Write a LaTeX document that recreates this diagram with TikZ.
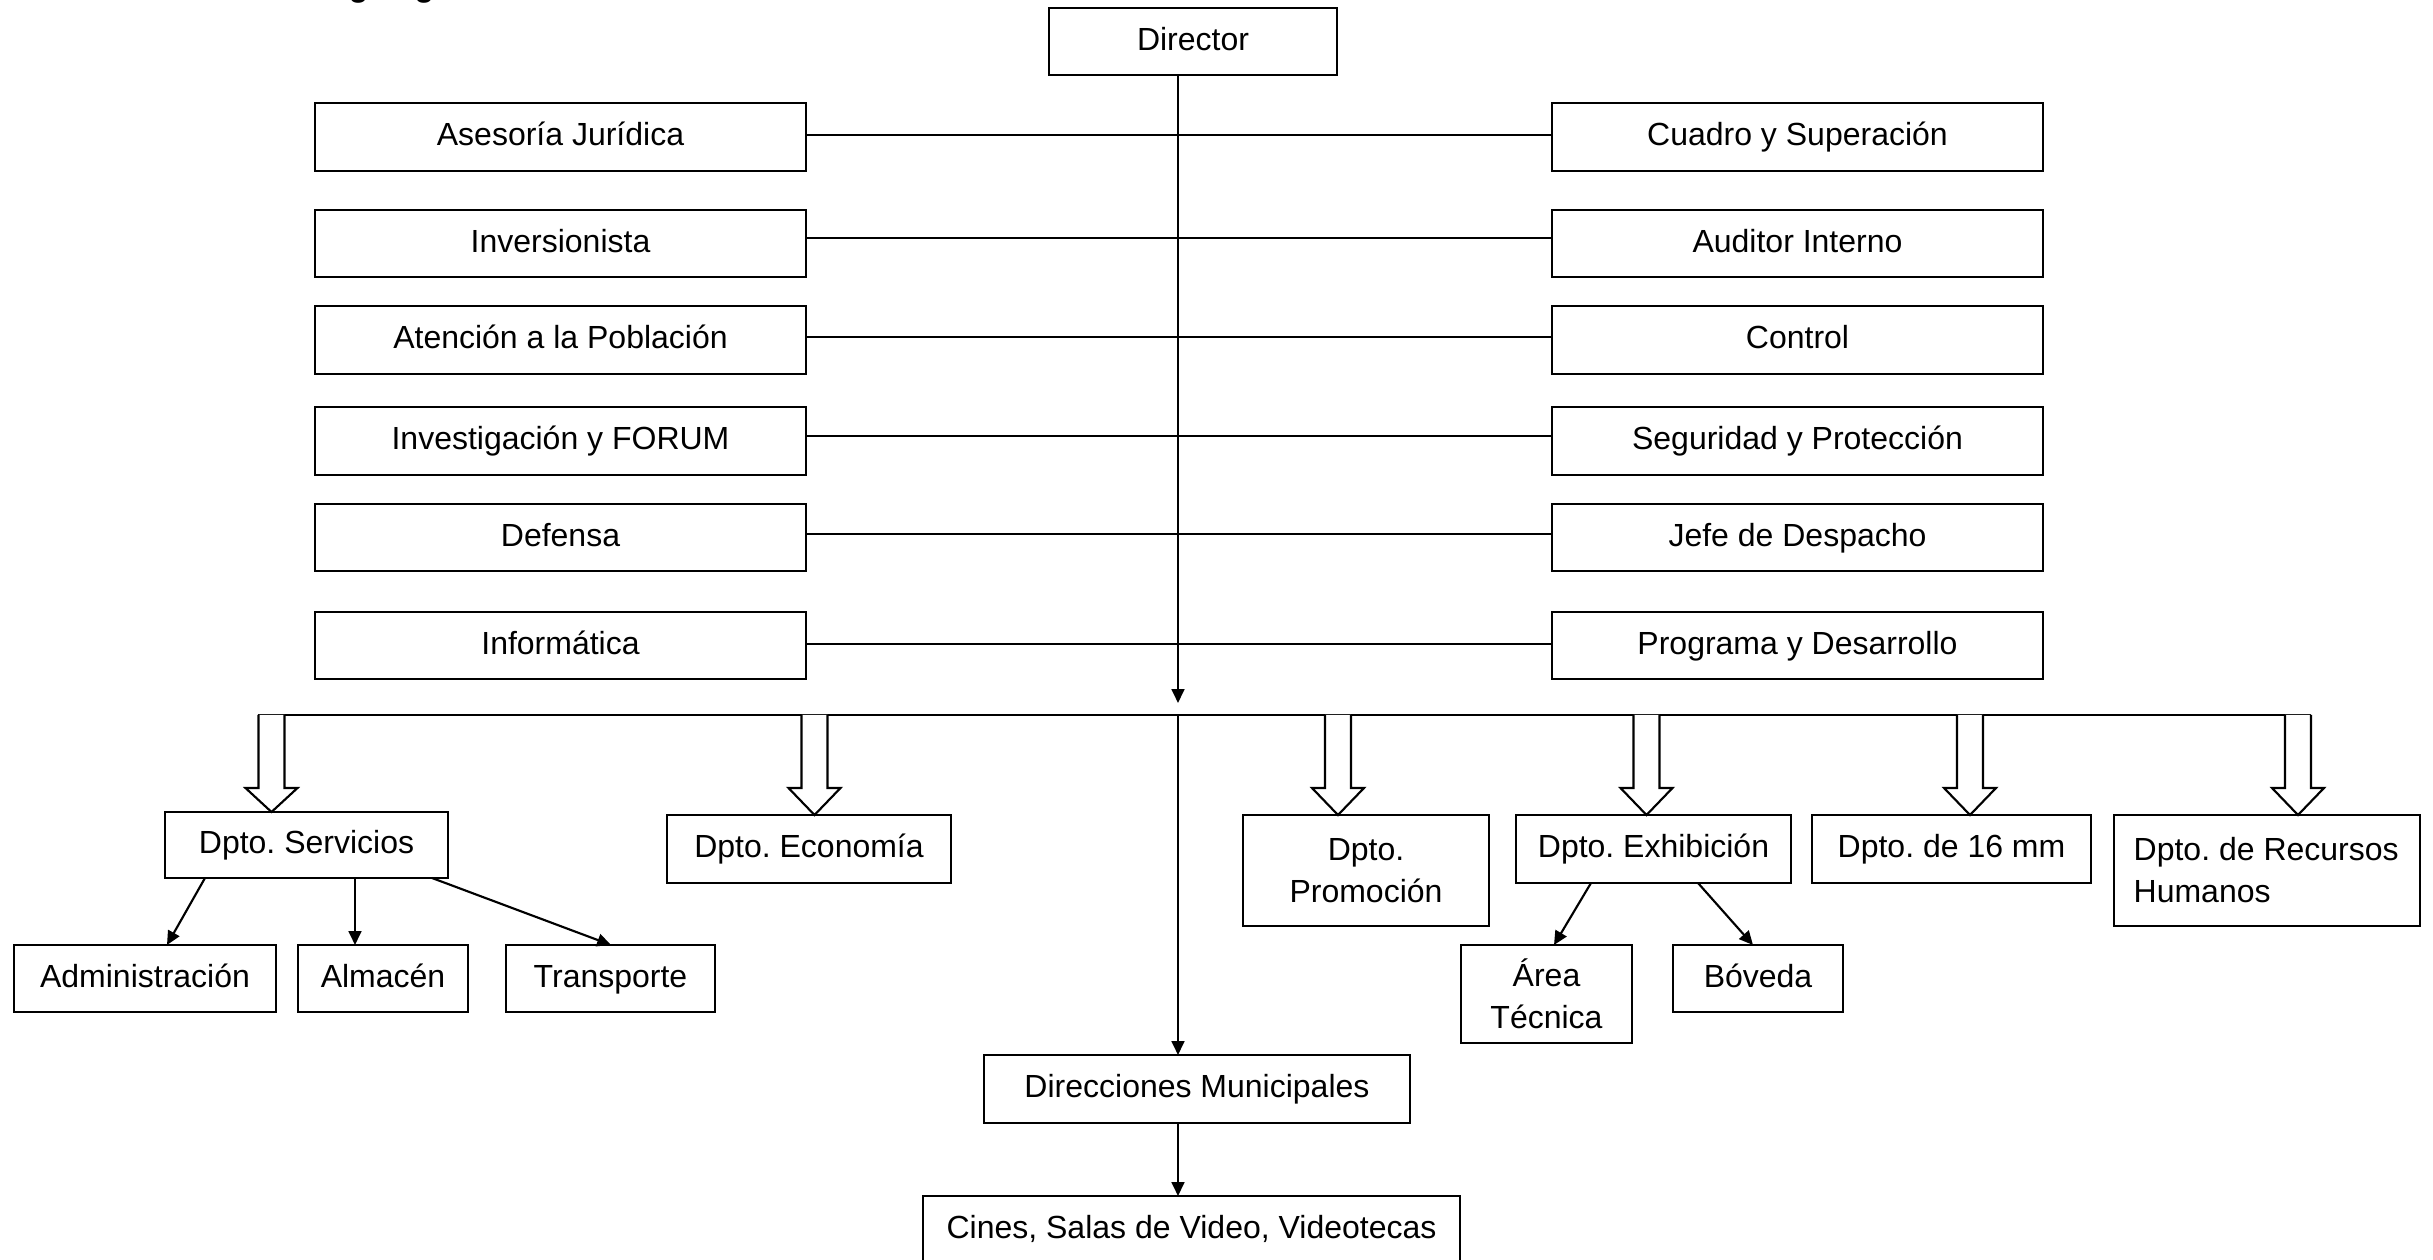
\documentclass[tikz,border=0pt]{standalone}
\usepackage{fontspec}
\setmainfont{Liberation Sans}
\frenchspacing
\usetikzlibrary{arrows.meta,calc}
\tikzset{
  box/.style={draw, line width=0.8pt, inner sep=0pt, outer sep=0pt, align=center,
    font=\fontsize{12}{15.7}\selectfont, text height=8.6pt, text depth=2.2pt},
  multi/.style={text height=, text depth=},
  conn/.style={line width=0.8pt},
  arr/.style={line width=0.8pt, -{Triangle[length=5.2pt,width=4.8pt]}},
  hollow/.style={line width=0.8pt, fill=white, line join=miter},
}
\newcommand\bx[7][]{%
  \node[box,#1, minimum width={(#5-#3)*0.375pt}, minimum height={(#6-#4)*0.375pt}]
    (#2) at ({(#3+#5)/2},{(#4+#6)/2}) {#7};}
\newcommand\hol[2]{%
  \coordinate (t#1) at (#2,715);
  \draw[hollow] ($(t#1)+(-13,0)$) -- ($(t#1)+(-13,73)$) -- ($(t#1)+(-26,73)$)
    -- (#1.north -| t#1) -- ($(t#1)+(26,73)$) -- ($(t#1)+(13,73)$) -- ($(t#1)+(13,0)$);}
\begin{document}
\begin{tikzpicture}[x=0.375pt,y=-0.375pt]
\useasboundingbox (0,0) rectangle (2433,1260);
% title (cut off at top edge)
\node[anchor=base west, inner sep=0pt, font=\fontsize{12}{14}\selectfont\bfseries] (title) at (311,-3) {Organigrama};
% top
\bx{dir}{1049}{8}{1337}{75}{Director}
% left column
\bx{l1}{315}{103}{806}{171}{Asesoría Jurídica}
\bx{l2}{315}{210}{806}{277}{Inversionista}
\bx{l3}{315}{306}{806}{374}{Atención a la Población}
\bx{l4}{315}{407}{806}{475}{Investigación y FORUM}
\bx{l5}{315}{504}{806}{571}{Defensa}
\bx{l6}{315}{612}{806}{679}{Informática}
% right column
\bx{r1}{1552}{103}{2043}{171}{Cuadro y Superación}
\bx{r2}{1552}{210}{2043}{277}{Auditor Interno}
\bx{r3}{1552}{306}{2043}{374}{Control}
\bx{r4}{1552}{407}{2043}{475}{Seguridad y Protección}
\bx{r5}{1552}{504}{2043}{571}{Jefe de Despacho}
\bx{r6}{1552}{612}{2043}{679}{Programa y Desarrollo}
% row lines
\coordinate (y1) at (0,135);
\coordinate (y2) at (0,238);
\coordinate (y3) at (0,337);
\coordinate (y4) at (0,436);
\coordinate (y5) at (0,534);
\coordinate (y6) at (0,644);
\foreach \i in {1,...,6} {\draw[conn] (l\i.east |- y\i) -- (r\i.west |- y\i);}
% main vertical
\coordinate (vx) at (1178,0);
\coordinate (dtip) at (1178,703);
\draw[arr] (dir.south -| vx) -- (dtip);
% bus
\coordinate (busL) at (258,715);
\coordinate (busR) at (2311,715);
\draw[conn] (busL) -- (busR);
% departments
\bx{svc}{165}{812}{448}{878}{Dpto. Servicios}
\bx{eco}{667}{815}{951}{883}{Dpto. Economía}
\bx[multi]{pro}{1243}{815}{1489}{926}{Dpto.\\Promoción}
\bx{exh}{1516}{815}{1791}{883}{Dpto. Exhibición}
\bx{mm}{1812}{815}{2091}{883}{Dpto. de 16 mm}
\bx[multi,align=left]{rh}{2114}{815}{2420}{926}{\parbox{100pt}{\raggedright Dpto. de Recursos\\Humanos}}
% hollow arrows
\hol{svc}{271.5}
\hol{eco}{814.5}
\hol{pro}{1338}
\hol{exh}{1646.5}
\hol{mm}{1970}
\hol{rh}{2298}
% sub-units
\bx{adm}{14}{945}{276}{1012}{Administración}
\bx{alm}{298}{945}{468}{1012}{Almacén}
\bx{tra}{506}{945}{715}{1012}{Transporte}
\bx[multi]{are}{1461}{945}{1632}{1043}{Área\\Técnica}
\bx{bov}{1673}{945}{1843}{1012}{Bóveda}
\coordinate (xa) at (205,0);
\coordinate (xb) at (167,0);
\coordinate (xc) at (355,0);
\coordinate (xd) at (432,0);
\coordinate (xe) at (611,0);
\coordinate (xf) at (1591,0);
\coordinate (xg) at (1554,0);
\coordinate (xh) at (1698,0);
\coordinate (xi) at (1753,0);
\draw[arr] (svc.south -| xa) -- (adm.north -| xb);
\draw[arr] (svc.south -| xc) -- (alm.north -| xc);
\draw[arr] (svc.south -| xd) -- (tra.north -| xe);
\draw[arr] (exh.south -| xf) -- (are.north -| xg);
\draw[arr] (exh.south -| xh) -- (bov.north -| xi);
% municipal
\bx{dmun}{984}{1055}{1410}{1123}{Direcciones Municipales}
\bx{cin}{923}{1196}{1460}{1263}{Cines, Salas de Video, Videotecas}
\draw[arr] (busL -| vx) -- (dmun.north -| vx);
\draw[arr] (dmun.south -| vx) -- (cin.north -| vx);
\end{tikzpicture}
\end{document}
